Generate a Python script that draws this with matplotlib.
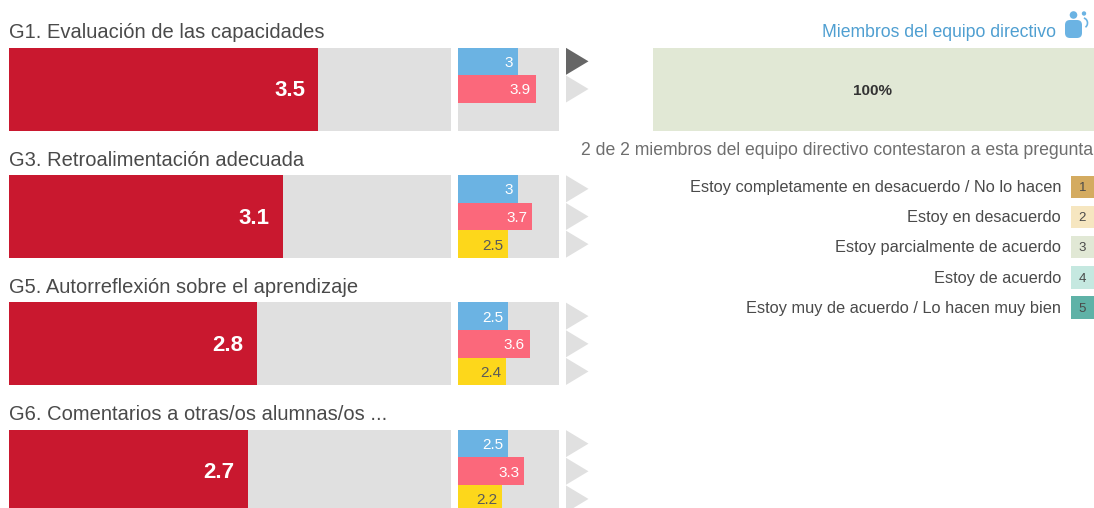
import matplotlib
matplotlib.use("Agg")
import matplotlib.pyplot as plt
from matplotlib.patches import Polygon, Rectangle, FancyBboxPatch, Circle, Arc

plt.rcParams['font.family'] = ['Liberation Sans', 'DejaVu Sans']

titles = ["G1. Evaluación de las capacidades", "G3. Retroalimentación adecuada",
          "G5. Autorreflexión sobre el aprendizaje", "G6. Comentarios a otras/os alumnas/os ..."]
main_values = [3.5, 3.1, 2.8, 2.7]
blue_values = [3, 3, 2.5, 2.5]
pink_values = [3.9, 3.7, 3.6, 3.3]
yellow_values = [None, 2.5, 2.4, 2.2]
blue_labels = ["3", "3", "2.5", "2.5"]
dist_share = [100]
dist_label = "100%"
legend_labels = ["Estoy completamente en desacuerdo / No lo hacen", "Estoy en desacuerdo",
                 "Estoy parcialmente de acuerdo", "Estoy de acuerdo",
                 "Estoy muy de acuerdo / Lo hacen muy bien"]
legend_keys = ["1", "2", "3", "4", "5"]
legend_colors = ["#d4ab60", "#f6e6c0", "#e1e8d5", "#c5e8e0", "#5fb2a7"]

W, H = 1094, 508
RED, BLUE, PINK, YEL, GRAY = "#c9182f", "#6bb3e3", "#fb687b", "#fdd71b", "#e0e0e0"
TXT = "#4a4a4a"

fig = plt.figure(figsize=(W / 100, H / 100), dpi=100, facecolor="white")

def panel(x0, y0, x1, y1):
    ax = fig.add_axes([x0 / W, 1 - y1 / H, (x1 - x0) / W, (y1 - y0) / H])
    ax.set_axis_off()
    return ax

ov = panel(0, 0, W, H)
ov.set_xlim(0, W)
ov.set_ylim(H, 0)
ov.set_zorder(10)

row_tops = [47.5, 175, 302.3, 429.8]
ROW_H = 83

for i, top in enumerate(row_tops):
    ov.text(9, top - 9.5, titles[i], fontsize=14.5, color=TXT, ha="left", va="baseline")

    a = panel(9, top, 451, top + ROW_H)
    a.set_xlim(0, 5)
    a.set_ylim(0, 1)
    a.barh(0.5, 5, height=1, color=GRAY)
    a.barh(0.5, main_values[i], height=1, color=RED)
    ov.text(9 + main_values[i] * 441.8 / 5 - 13, top + ROW_H / 2 + 1.5, f"{main_values[i]}",
            color="white", fontsize=16, fontweight="bold", ha="right", va="center")

    s = panel(458, top, 559, top + ROW_H)
    s.set_xlim(0, 5.08)
    s.set_ylim(3, 0)
    s.barh(1.5, 5.08, height=3, color=GRAY)
    subs = [(blue_values[i], BLUE, "white", blue_labels[i]),
            (pink_values[i], PINK, "white", f"{pink_values[i]}"),
            (yellow_values[i], YEL, "#5a5a5a", f"{yellow_values[i]}")]
    for j, (v, c, tc, lab) in enumerate(subs):
        cy = top + ROW_H * (j + 0.5) / 3
        if v is not None:
            s.barh(j + 0.5, v, height=1, color=c)
            ov.text(458 + v * 101 / 5.08 - 4.5, cy + 1.5, lab, color=tc, fontsize=11,
                    ha="right", va="center")
            col = "#666666" if (i == 0 and j == 0) else "#e0e0e0"
            ov.add_patch(Polygon([(566, cy - 13.5), (566, cy + 13.5), (588.5, cy)],
                                 closed=True, fc=col, ec="none"))

# header on the right
ov.text(1056, 37, "Miembros del equipo directivo", fontsize=12.7, color="#4f9fd1",
        ha="right", va="baseline")
ov.add_patch(FancyBboxPatch((1069, 24), 9, 10, boxstyle="round,pad=4,rounding_size=5",
                            fc=BLUE, ec="none"))
ov.add_patch(Circle((1073.5, 15), 3.8, fc=BLUE, ec="none"))
ov.add_patch(Circle((1084, 13.5), 2.2, fc=BLUE, ec="none"))
ov.add_patch(Arc((1083, 23), 9, 10, theta1=-80, theta2=60, ec=BLUE, lw=1.2))

# distribution bar
d = panel(652.5, 47.5, 1094, 47.5 + ROW_H)
d.set_xlim(0, 100)
d.set_ylim(0, 1)
d.barh(0.5, dist_share[0], height=1, color=legend_colors[2])
ov.text(873, 91.2, dist_label, fontsize=11, fontweight="bold", color="#333333",
        ha="center", va="center")

ov.text(1093, 155, "2 de 2 miembros del equipo directivo contestaron a esta pregunta",
        fontsize=12.7, color="#6e6e6e", ha="right", va="baseline")

# legend
for k, (lab, key, col) in enumerate(zip(legend_labels, legend_keys, legend_colors)):
    y0 = 175.5 + 30.2 * k
    ov.add_patch(Rectangle((1071, y0), 22.5, 22.5, fc=col, ec="none"))
    ov.text(1082.3, y0 + 12.5, key, fontsize=9.5, color="#4a4a4a", ha="center", va="center")
    ov.text(1061, y0 + 12, lab, fontsize=11.78, color=TXT, ha="right", va="center")

fig.savefig("out.png", dpi=100)
